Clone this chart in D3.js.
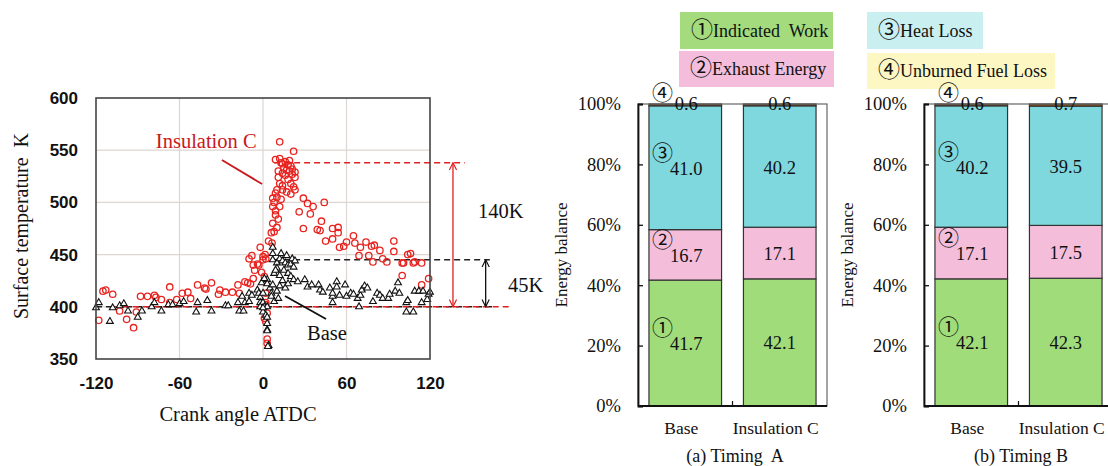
<!DOCTYPE html>
<html>
<head>
<meta charset="utf-8">
<script src="https://cdn.jsdelivr.net/npm/d3@7"></script>
<style>
	body { margin: 0; background: #fff; }
	svg { display: block; }
	text { white-space: pre; }
</style>
</head>
<body>
<div id="content"></div>
<script>
// Surface temperature vs crank angle
var insulationC = [
	[-118,387],[-115,415],[-113,416],[-108,412],[-103,396],[-98,388],[-93,380],[-91,395],[-88,410],[-83,410],
	[-78,411],[-77,409],[-73,407],[-67,419],[-67,404],[-62,407],[-58,413],[-54,414],[-52,408],[-47,421],
	[-42,418],[-41,417],[-37,423],[-32,412],[-31,416],[-27,414],[-22,414],[-18,421],[-17,413],[-13,424],
	[-11,423],[-9,422],[-7,427],[-6,435],[-3,440],[-1,433],[1,429],[2,413],[2,404],[2,402],[3,394],[1,389],
	[2,386],[3,369],[3,365],[0,448],[1.5,450],[6.5,461],[0,445],[2,446],[-7,440],[-4,441],[-10,446],[-8,449],
	[-2,457],[4,463],
	[12,558],[22,549],[9,541],[12,542],[14,537],[16,539],[18,536],[20,535],[15,533],[17,531],[19,530],[21,532],
	[23,529],[14,528],[16,526],[11,524],[23,524],[18,522],[12,518],[14,516],[20,518],[22,515],[14,512],[23,512],
	[17,510],[9,509],[7,504],[10,505],[13,503],[8,500],[7,496],[12,496],[9,492],[9,488],[7,480],[6,471],[8,472],
	[10,476],[11,484],[13,538],[19,540],[11,530],[21,527],[10,512],[20,508],
	[29,504],[32,499],[36,496],[44,500],[26,491],[34,489],[42,482],[29,475],[39,474],[41,473],[50,475],[54,476],
	[54,471],[45,463],[50,465],[55,457],[58,458],[60,462],[65,468],[66,461],[70,457],[69,449],[74,462],[76,449],
	[78,458],[80,459],[84,454],[79,443],[86,446],[94,463],[94,453],[89,443],[104,450],[100,442],[109,443],
	[114,442],[100,430],[114,421],[119,427],[101,442],[108,442],[106,451]
];
var base = [
	[-120,399],[-118,404],[-110,386],[-108,399],[-103,401],[-100,403],[-97,396],[-90,390],[-87,396],[-80,400],
	[-78,404],[-73,396],[-68,402],[-65,402],[-60,403],[-57,405],[-48,395],[-47,404],[-40,406],[-37,396],
	[-27,401],[-25,401],[-17,396],[-14,396],[-18,404],[-15,410],[-13,404],[-10,413],[-10,405],[-8,411],
	[-4,416],[-3,413],[-2,409],[0,413],[-1,423],[3,426],[-2,404],[0,404],[1,400],[-2,400],[3,400],[0,395],
	[0,399],[2,392],[3,390],[3,384],[3,378],[3,377],[4,363],[3.5,362],
	[1,427],[3,422],[5,418],[6,413],[7,421],[7,445],[7,451],[7,457],[10,442],[10,437],[12,446],[14,444],
	[16,442],[18,440],[20,441],[22,438],[13,451],[17,449],[21,446],[23,444],[8,432],[9,435],[15,435],[12,430],
	[18,432],[20,429],[22,426],[25,424],[6,410],[8,405],[10,415],[12,420],[14,425],[16,418],[18,422],[11,408],
	[30,426],[32,419],[35,421],[40,421],[41,416],[43,414],[48,418],[50,410],[50,413],[53,424],[53,419],[50,404],
	[55,411],[59,421],[60,410],[63,413],[65,412],[68,408],[70,411],[71,416],[73,420],[75,418],[69,400],[79,405],
	[82,413],[84,411],[86,408],[90,408],[91,412],[95,415],[98,413],[97,423],[103,404],[104,406],[103,395],
	[108,395],[109,415],[112,415],[115,415],[114,404],[118,407],[119,412],[120,414]
];
var xTicks = [-120, -60, 0, 60, 120];
var yTicks = [350, 400, 450, 500, 550, 600];
var gridX = [-60, 0, 60];
var gridY = [400, 450, 500, 550];

// Energy balance (%)
var categories = ["Base", "Insulation C"];
var components = ["Indicated  Work", "Exhaust Energy", "Heat Loss", "Unburned Fuel Loss"];
var marks = ["\u2460", "\u2461", "\u2462", "\u2463"];
var timingA = [[41.7, 16.7, 41.0, 0.6], [42.1, 17.1, 40.2, 0.6]];
var timingB = [[42.1, 17.1, 40.2, 0.6], [42.3, 17.5, 39.5, 0.7]];
var pctTicks = [0, 20, 40, 60, 80, 100];

var serif = '"Liberation Serif", "Noto Sans CJK JP", serif';
var sans = '"Liberation Sans", Arial, sans-serif';
var markFont = '"Noto Sans CJK JP", "Liberation Serif", serif';

function main() {
	var svg = d3.select("#content").append("svg")
		.attr("width", 1108)
		.attr("height", 466);

	drawScatter(svg);
	drawLegend(svg);
	drawBars(svg, timingA, 638, "(a) Timing  A");
	drawBars(svg, timingB, 924, "(b) Timing B");
}

function drawScatter(svg) {
	var x = d3.scaleLinear().domain([-120, 120]).range([96, 430]);
	var y = d3.scaleLinear().domain([350, 600]).range([359, 98]);
	var g = svg.append("g");

	// grid
	g.selectAll(".gx").data(gridX).enter().append("line")
		.attr("x1", d => x(d)).attr("x2", d => x(d))
		.attr("y1", y(350)).attr("y2", y(600))
		.attr("stroke", "#ddd6d2").attr("stroke-width", 1.2);
	g.selectAll(".gy").data(gridY).enter().append("line")
		.attr("x1", x(-120)).attr("x2", x(120))
		.attr("y1", d => y(d)).attr("y2", d => y(d))
		.attr("stroke", "#ddd6d2").attr("stroke-width", 1.2);

	// axes (labels only)
	var ya = g.append("g").attr("transform", "translate(" + x(-120) + ",0)")
		.call(d3.axisLeft(y).tickValues(yTicks).tickSize(0).tickPadding(18).tickFormat(d => String(d)));
	var xa = g.append("g").attr("transform", "translate(0," + y(350) + ")")
		.call(d3.axisBottom(x).tickValues(xTicks).tickSize(0).tickPadding(18).tickFormat(d => String(d)));
	[ya, xa].forEach(function (a) {
		a.select(".domain").remove();
		a.selectAll("text").attr("font-family", sans).attr("font-weight", "bold")
			.attr("font-size", 17).attr("fill", "#111");
	});

	// reference dashes and arrows
	var defs = svg.append("defs");
	[["arrRed", "#e02020"], ["arrBlk", "#111"]].forEach(function (m) {
		defs.append("marker").attr("id", m[0])
			.attr("viewBox", "0 0 10 10").attr("refX", 9).attr("refY", 5)
			.attr("markerWidth", 9).attr("markerHeight", 9).attr("orient", "auto-start-reverse")
			.attr("markerUnits", "userSpaceOnUse")
			.append("path").attr("d", "M1,1 L9,5 L1,9").attr("fill", "none")
			.attr("stroke", m[1]).attr("stroke-width", 1.3);
	});

	var dashes = [
		{ x1: -120, x2: 165, y: 400, c: "#222" },
		{ x1: 8, x2: 163, y: 445, c: "#222" },
		{ x1: -108, x2: 179, y: 400, c: "#e02020" },
		{ x1: 8, x2: 145, y: 538, c: "#e02020" }
	];
	g.selectAll(".dash").data(dashes).enter().append("line")
		.attr("x1", d => x(d.x1)).attr("x2", d => x(d.x2))
		.attr("y1", d => y(d.y)).attr("y2", d => y(d.y))
		.attr("stroke", d => d.c).attr("stroke-width", 1.6).attr("stroke-dasharray", "6,4");

	var arrows = [
		{ x: 136.5, y1: 538, y2: 400, c: "#e02020", m: "arrRed" },
		{ x: 160, y1: 445, y2: 400, c: "#111", m: "arrBlk" }
	];
	g.selectAll(".arrow").data(arrows).enter().append("line")
		.attr("x1", d => x(d.x)).attr("x2", d => x(d.x))
		.attr("y1", d => y(d.y1)).attr("y2", d => y(d.y2))
		.attr("stroke", d => d.c).attr("stroke-width", 1.3)
		.attr("marker-start", d => "url(#" + d.m + ")")
		.attr("marker-end", d => "url(#" + d.m + ")");

	// points
	g.selectAll(".ins").data(insulationC).enter().append("circle")
		.attr("cx", d => x(d[0])).attr("cy", d => y(d[1])).attr("r", 3.2)
		.attr("fill", "none").attr("stroke", "#e8231f").attr("stroke-width", 1.3);
	var tri = d3.symbol().type(d3.symbolTriangle).size(20);
	g.selectAll(".base").data(base).enter().append("path")
		.attr("d", tri)
		.attr("transform", d => "translate(" + x(d[0]) + "," + y(d[1]) + ")")
		.attr("fill", "#fff").attr("stroke", "#111").attr("stroke-width", 1.1);

	// frame
	g.append("rect")
		.attr("x", x(-120)).attr("y", y(600))
		.attr("width", x(120) - x(-120)).attr("height", y(350) - y(600))
		.attr("fill", "none").attr("stroke", "#444").attr("stroke-width", 1.6);

	// leaders and notes
	var leaders = [
		{ x1: -29.5, y1: 540.6, x2: -0.7, y2: 517.6, c: "#c8181c" },
		{ x1: 15.8, y1: 410.3, x2: 45.3, y2: 388.3, c: "#111" }
	];
	g.selectAll(".leader").data(leaders).enter().append("line")
		.attr("x1", d => x(d.x1)).attr("y1", d => y(d.y1))
		.attr("x2", d => x(d.x2)).attr("y2", d => y(d.y2))
		.attr("stroke", d => d.c).attr("stroke-width", 1.8);

	var notes = [
		{ t: "Insulation C", x: -77, y: 552, c: "#c8181c" },
		{ t: "Base", x: 31.6, y: 368, c: "#111" },
		{ t: "140K", x: 154.5, y: 485, c: "#111" },
		{ t: "45K", x: 176, y: 414, c: "#111" }
	];
	g.selectAll(".note").data(notes).enter().append("text")
		.attr("x", d => x(d.x)).attr("y", d => y(d.y))
		.attr("fill", d => d.c).attr("font-family", serif).attr("font-size", 20.5)
		.text(d => d.t);

	// axis titles
	g.append("text").attr("x", 238).attr("y", 421)
		.attr("text-anchor", "middle").attr("font-family", serif).attr("font-size", 20.5)
		.attr("fill", "#111").text("Crank angle ATDC");
	g.append("text").attr("transform", "translate(28,226) rotate(-90)")
		.attr("text-anchor", "middle").attr("font-family", serif).attr("font-size", 20)
		.attr("fill", "#111").text("Surface temperature  K");
}

function drawLegend(svg) {
	var items = [
		{ i: 0, x: 680, y: 12, w: 153, h: 37, fill: "#a3db7d" },
		{ i: 1, x: 679, y: 51, w: 155, h: 36, fill: "#f3bddb" },
		{ i: 2, x: 867, y: 12, w: 116, h: 37, fill: "#c9eff0" },
		{ i: 3, x: 867, y: 53, w: 188, h: 36, fill: "#fdf7c4" }
	];
	var g = svg.append("g");
	g.selectAll("rect").data(items).enter().append("rect")
		.attr("x", d => d.x).attr("y", d => d.y).attr("width", d => d.w).attr("height", d => d.h)
		.attr("fill", d => d.fill);
	var t = g.selectAll("text").data(items).enter().append("text")
		.attr("x", d => d.x + 11).attr("y", d => d.y + d.h / 2 + 6)
		.attr("font-family", serif).attr("font-size", 18).attr("fill", "#111");
	t.append("tspan").attr("font-family", markFont).attr("font-size", 22).text(d => marks[d.i]);
	t.append("tspan").text(d => components[d.i]);
}

function drawBars(svg, data, left, title) {
	var colors = ["#a0dc7a", "#f4bedb", "#7fd8de", "#9c5a14"];
	var width = 189;
	var x = d3.scaleBand().domain(categories).range([left, left + width])
		.paddingInner(0.2316).paddingOuter(0.116);
	var y = d3.scaleLinear().domain([0, 100]).range([406, 104]);
	var g = svg.append("g");

	// stacked segments
	var segs = [];
	data.forEach(function (vals, ci) {
		var acc = 0;
		vals.forEach(function (v, k) {
			segs.push({ cat: categories[ci], ci: ci, k: k, y0: acc, y1: acc + v, v: v });
			acc += v;
		});
	});
	g.selectAll(".seg").data(segs).enter().append("rect")
		.attr("x", d => x(d.cat)).attr("width", x.bandwidth())
		.attr("y", d => y(d.y1)).attr("height", d => y(d.y0) - y(d.y1))
		.attr("fill", d => colors[d.k]).attr("stroke", "#333").attr("stroke-width", 1.2);

	// frame and axis
	g.append("rect").attr("x", left).attr("y", y(100))
		.attr("width", width).attr("height", y(0) - y(100))
		.attr("fill", "none").attr("stroke", "#666").attr("stroke-width", 1.2);
	var ya = g.append("g").attr("transform", "translate(" + left + ",0)")
		.call(d3.axisLeft(y).tickValues(pctTicks).tickSize(-5).tickPadding(17).tickFormat(d => d + "%"));
	ya.select(".domain").attr("stroke", "#111").attr("stroke-width", 1.8);
	ya.selectAll("line").attr("stroke", "#111").attr("stroke-width", 1.3);
	ya.selectAll("text").attr("font-family", serif).attr("font-size", 18.5).attr("fill", "#111");
	g.append("line").attr("x1", left).attr("x2", left + width)
		.attr("y1", y(0)).attr("y2", y(0)).attr("stroke", "#111").attr("stroke-width", 1.8);
	var mid = (x(categories[0]) + x.bandwidth() + x(categories[1])) / 2;
	g.append("line").attr("x1", mid).attr("x2", mid)
		.attr("y1", y(0)).attr("y2", y(0) - 5).attr("stroke", "#111").attr("stroke-width", 1.2);

	// value labels
	g.selectAll(".val").data(segs).enter().append("text")
		.attr("x", d => x(d.cat) + x.bandwidth() / 2 + (d.ci === 0 ? 1 : 0))
		.attr("y", d => d.k === 3 ? y(d.y1) + 6 : (y(d.y0) + y(d.y1)) / 2 + 7)
		.attr("text-anchor", "middle").attr("font-family", serif).attr("font-size", 18.5)
		.attr("fill", "#111").text(d => d.v.toFixed(1));

	// circled markers on the Base bar
	g.selectAll(".mark").data(segs.filter(d => d.ci === 0)).enter().append("text")
		.attr("x", d => x(d.cat) + 3)
		.attr("y", d => d.k === 3 ? y(d.y1) - 4 : (y(d.y0) + y(d.y1)) / 2 - 8)
		.attr("font-family", markFont).attr("font-size", 21).attr("fill", "#111")
		.text(d => marks[d.k]);

	// category labels and titles
	g.selectAll(".cat").data(categories).enter().append("text")
		.attr("x", d => x(d) + x.bandwidth() / 2 - 4).attr("y", 434)
		.attr("text-anchor", "middle").attr("font-family", serif).attr("font-size", 17.5)
		.attr("fill", "#111").text(d => d);
	g.append("text").attr("x", left + 97).attr("y", 462)
		.attr("text-anchor", "middle").attr("font-family", serif).attr("font-size", 18)
		.attr("fill", "#111").text(title);
	g.append("text").attr("transform", "translate(" + (left - 71) + ",255) rotate(-90)")
		.attr("text-anchor", "middle").attr("font-family", serif).attr("font-size", 17)
		.attr("fill", "#111").text("Energy balance");
}

(() => {
	main();
})()
</script>
</body>
</html>
